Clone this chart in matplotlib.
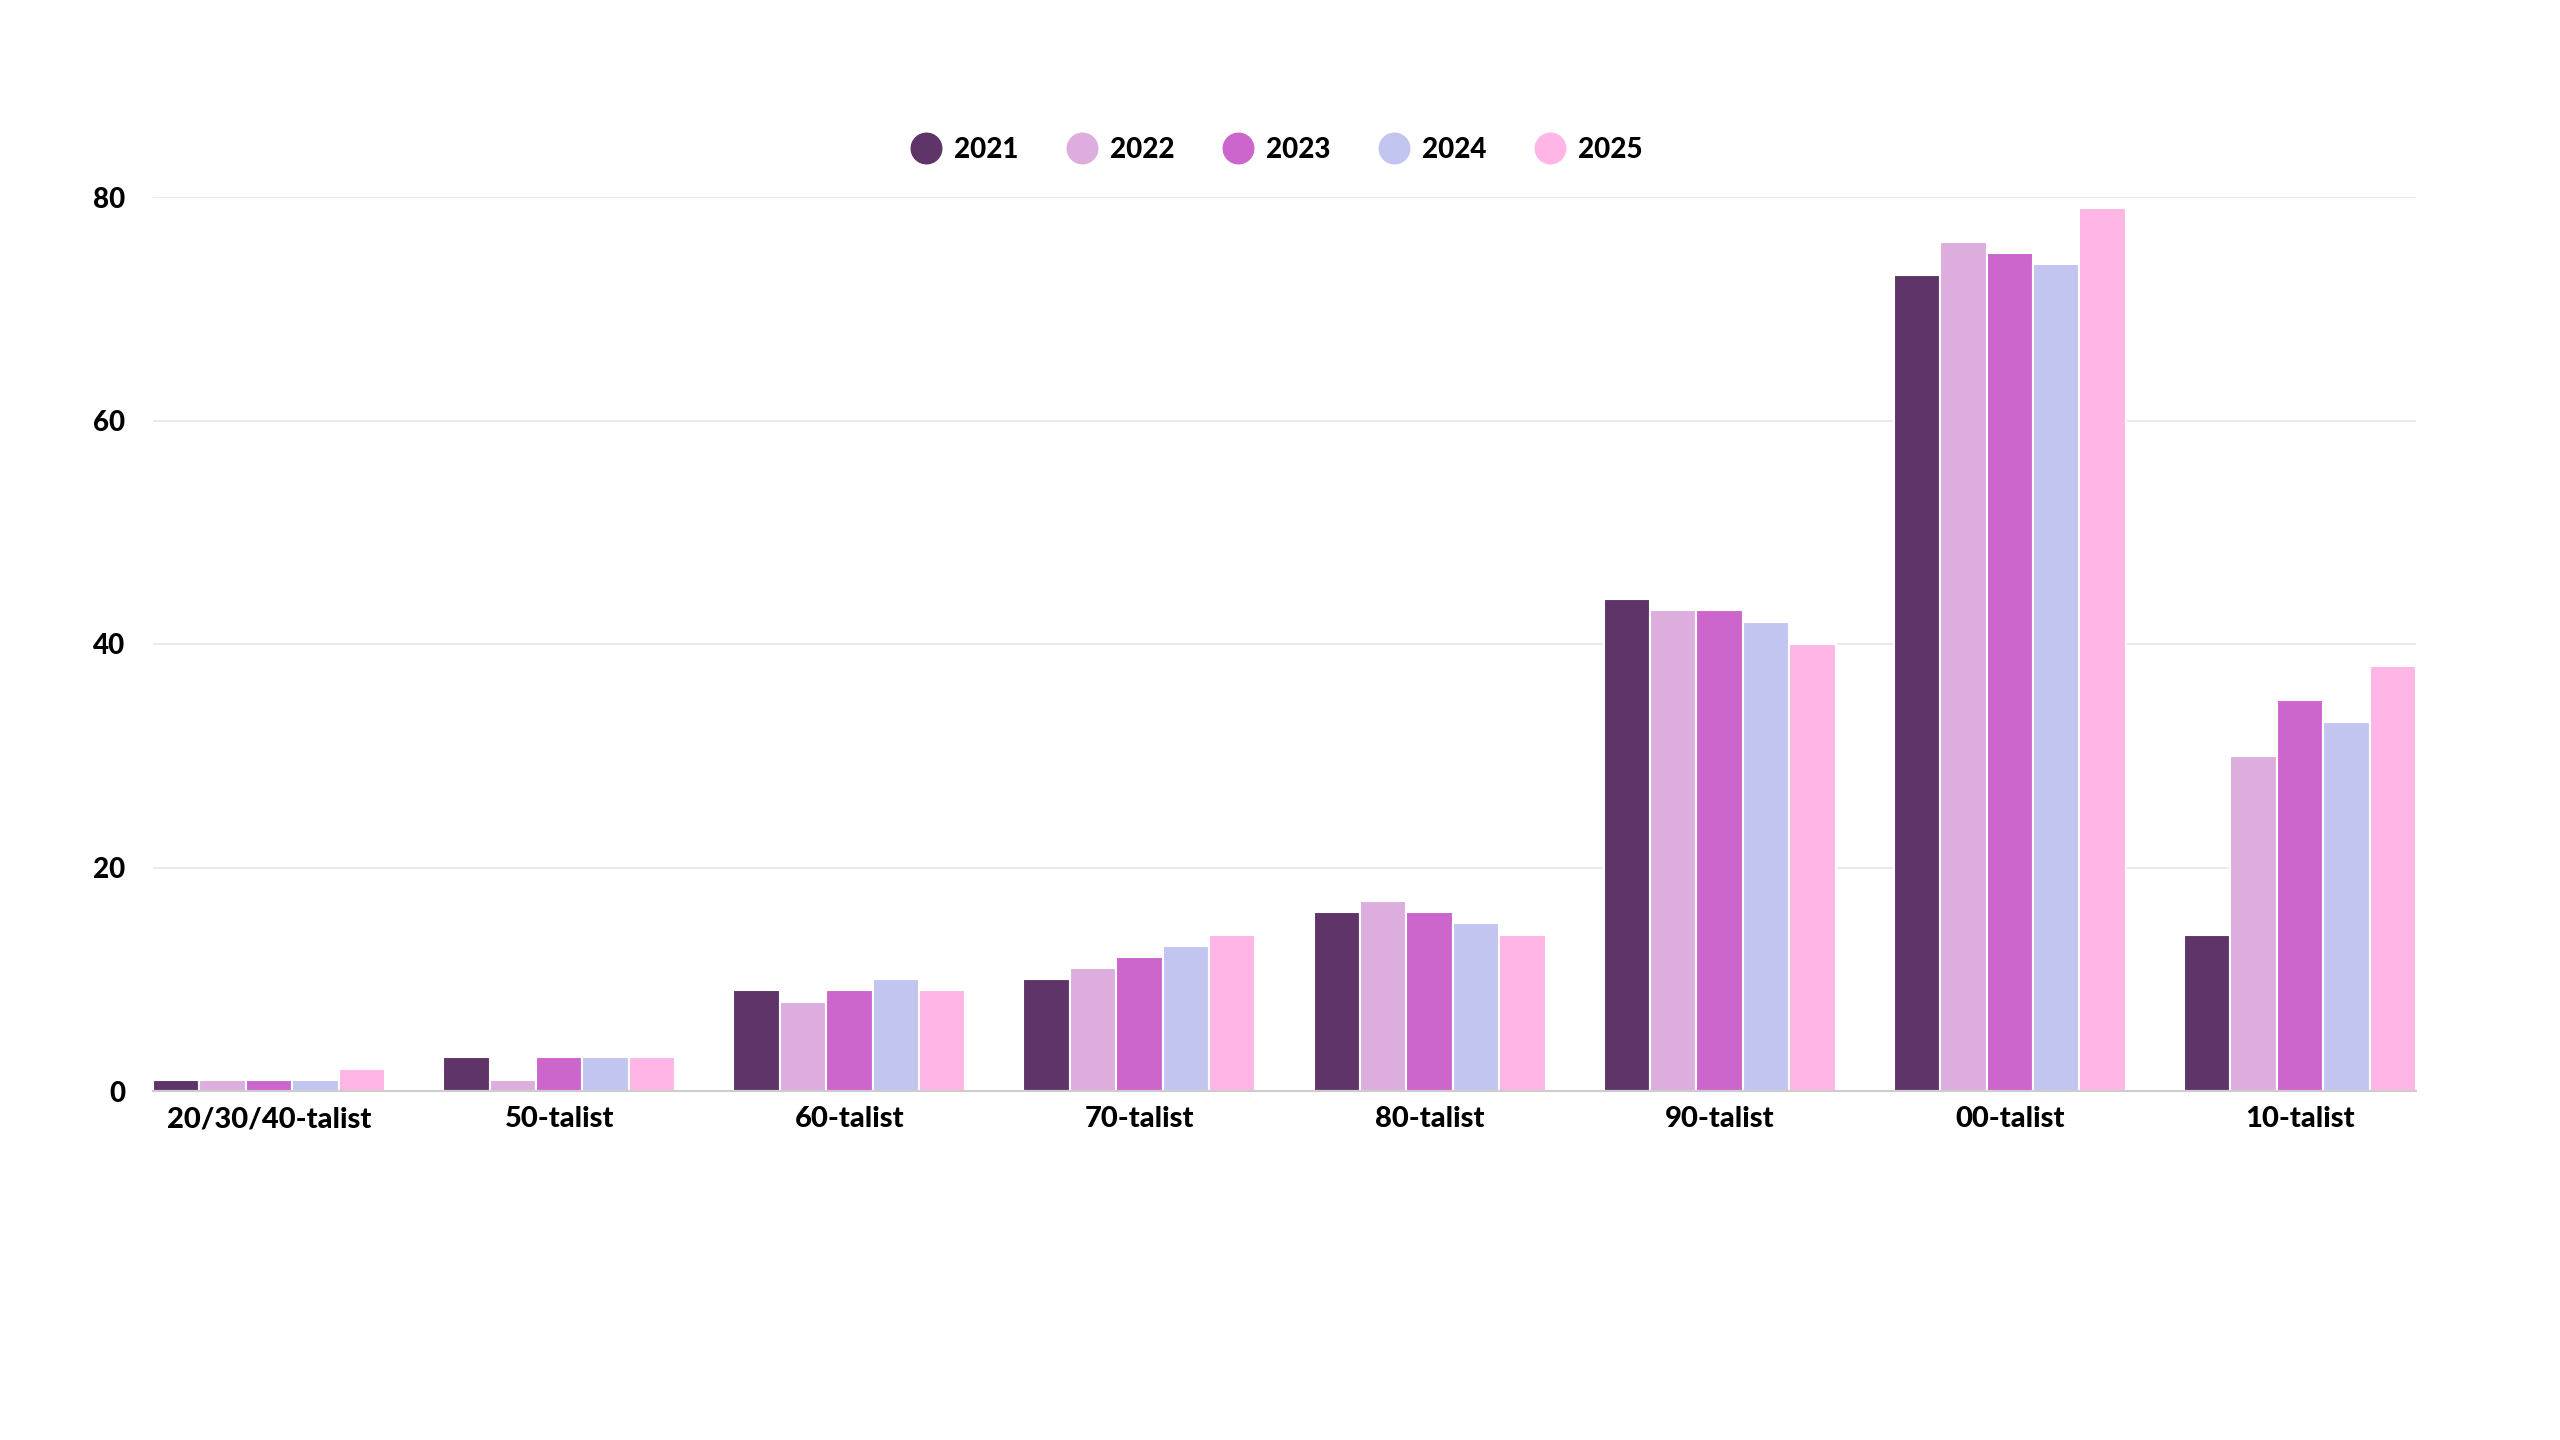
import matplotlib
matplotlib.use("Agg")
import matplotlib.pyplot as plt
import numpy as np
from matplotlib.lines import Line2D

categories = ["20/30/40-talist", "50-talist", "60-talist", "70-talist",
              "80-talist", "90-talist", "00-talist", "10-talist"]
years = ["2021", "2022", "2023", "2024", "2025"]
v2021 = [1, 3, 9, 10, 16, 44, 73, 14]
v2022 = [1, 1, 8, 11, 17, 43, 76, 30]
v2023 = [1, 3, 9, 12, 16, 43, 75, 35]
v2024 = [1, 3, 10, 13, 15, 42, 74, 33]
v2025 = [2, 3, 9, 14, 14, 40, 79, 38]
series = [v2021, v2022, v2023, v2024, v2025]
colors = ["#5f3468", "#ddaddd", "#cc66cc", "#c2c5f0", "#ffb6e6"]
yticks = [0, 20, 40, 60, 80]

plt.rcParams['font.family'] = ['Lato', 'DejaVu Sans']
plt.rcParams['font.weight'] = 'black'

fig = plt.figure(figsize=(25.6, 14.4), dpi=100)
left, right, top, bottom = 153, 2416, 197, 1091
ax = fig.add_axes([left/2560, 1 - bottom/1440, (right-left)/2560, (bottom-top)/1440])

x = np.arange(len(categories))
n = len(series)
group_w = 0.8
bw = group_w / n
for i, (vals, c) in enumerate(zip(series, colors)):
    ax.bar(x - group_w/2 + bw*(i+0.5), vals, width=bw, color=c,
           edgecolor="white", linewidth=1.5, zorder=3, label=years[i])

ax.set_xlim(-0.4, len(categories) - 1 + 0.4)
ax.set_ylim(0, 80)
ax.set_yticks(yticks)
ax.set_yticklabels([str(t) for t in yticks], fontsize=20, fontweight='black')
ax.set_xticks(x)
ax.set_xticklabels(categories, fontsize=21, fontweight='black')
ax.tick_params(axis='both', length=0, colors='black')
ax.tick_params(axis='y', pad=20)
ax.tick_params(axis='x', pad=11)
ax.grid(axis='y', color='#e6e6e6', linewidth=1.2, zorder=0)
ax.set_axisbelow(True)
for s in ['top', 'right', 'left']:
    ax.spines[s].set_visible(False)
ax.spines['bottom'].set_color('#cccccc')
ax.spines['bottom'].set_linewidth(1.5)
ax.spines['bottom'].set_zorder(4)

handles = [Line2D([0], [0], marker='o', linestyle='None', markersize=22,
                  markerfacecolor=c, markeredgecolor=c) for c in colors]
fig.legend(handles, years, loc='center', bbox_to_anchor=(1276/2560, 1 - 150/1440),
           ncol=5, frameon=False, handletextpad=0.4, handlelength=1.2,
           columnspacing=1.7, prop={'weight': 'black', 'size': 20})

fig.savefig("out.png", dpi=100, facecolor="white")
